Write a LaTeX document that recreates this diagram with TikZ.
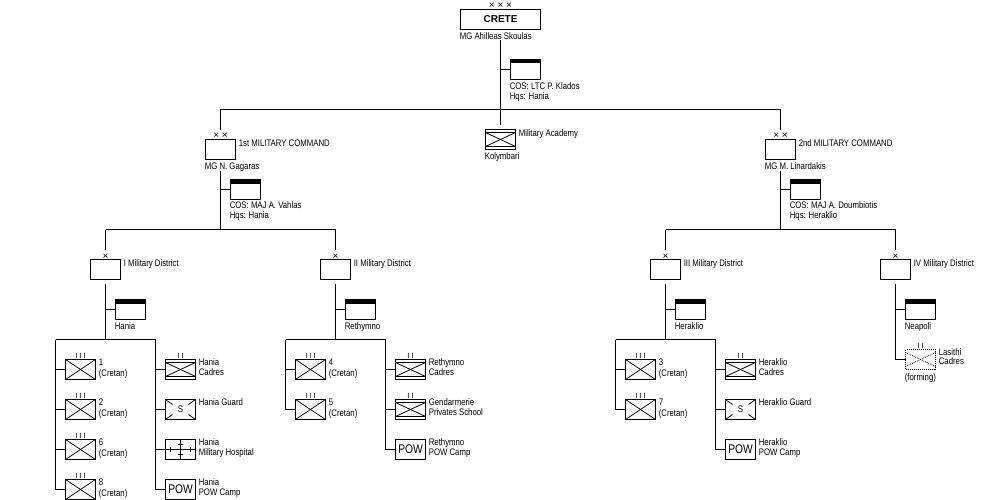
\documentclass[tikz,border=0pt]{standalone}
\usepackage{fontspec}
\setmainfont[FakeStretch=0.82]{Liberation Sans}
\newfontfamily\plainfont{Liberation Sans}
\usepackage{tikz}
\usetikzlibrary{calc}
\tikzset{link/.style={line width=1pt,black}}
\tikzset{txt/.style={anchor=base west,inner sep=0pt,outer sep=0pt,xshift=-.7pt,font=\fontsize{9.5}{10}\selectfont}}
\tikzset{ech/.style={anchor=base,inner sep=0pt,font=\plainfont\fontsize{7.5}{8}\selectfont}}
\tikzset{echx/.style={anchor=base,inner sep=0pt,font=\plainfont\fontsize{10}{10}\selectfont}}
\tikzset{unit/.style={rectangle,draw=black,line width=1pt,minimum width=30pt,minimum height=20pt,inner sep=0pt,outer sep=0pt}}
\tikzset{staff/.style={unit,path picture={\fill[black] (path picture bounding box.north west) rectangle ([yshift=-4pt]path picture bounding box.north east);}}}
\tikzset{inf/.style={unit,path picture={
  \draw[line width=.8pt] (path picture bounding box.north west) -- (path picture bounding box.south east);
  \draw[line width=.8pt] (path picture bounding box.south west) -- (path picture bounding box.north east);}}}
\tikzset{cadre/.style={unit,path picture={
  \draw[line width=1pt] ([yshift=-3pt]path picture bounding box.north west) -- ([yshift=-3pt]path picture bounding box.north east);
  \draw[line width=1pt] ([yshift=3pt]path picture bounding box.south west) -- ([yshift=3pt]path picture bounding box.south east);
  \draw[line width=.8pt] ([yshift=-3pt]path picture bounding box.north west) -- ([yshift=3pt]path picture bounding box.south east);
  \draw[line width=.8pt] ([yshift=3pt]path picture bounding box.south west) -- ([yshift=-3pt]path picture bounding box.north east);}}}
\tikzset{guard/.style={unit,font=\fontsize{9.5}{10}\selectfont,path picture={
  \draw[line width=.8pt] (path picture bounding box.north west) -- +(7pt,-5pt);
  \draw[line width=.8pt] (path picture bounding box.north east) -- +(-7pt,-5pt);
  \draw[line width=.8pt] (path picture bounding box.south west) -- +(7pt,5pt);
  \draw[line width=.8pt] (path picture bounding box.south east) -- +(-7pt,5pt);}}}
\tikzset{hospital/.style={unit,path picture={
  \draw[line width=1pt] (path picture bounding box.west) -- (path picture bounding box.east);
  \draw[line width=1pt] (path picture bounding box.north) -- (path picture bounding box.south);
  \foreach \s in {-10,10} \draw[line width=1pt] ([xshift=\s pt,yshift=-2.5pt]path picture bounding box.center) -- ([xshift=\s pt,yshift=2.5pt]path picture bounding box.center);
  \foreach \s in {-5,5} \draw[line width=1pt] ([xshift=-2.5pt,yshift=\s pt]path picture bounding box.center) -- ([xshift=2.5pt,yshift=\s pt]path picture bounding box.center);}}}
\tikzset{pow/.style={unit,font=\fontsize{12.5}{13}\selectfont}}
\tikzset{forming/.style={unit,densely dotted,path picture={
  \draw[line width=.8pt,densely dotted] ([yshift=-3pt]path picture bounding box.north west) -- ([yshift=3pt]path picture bounding box.south east);
  \draw[line width=.8pt,densely dotted] ([yshift=3pt]path picture bounding box.south west) -- ([yshift=-3pt]path picture bounding box.north east);}}}
\begin{document}
\begin{tikzpicture}[x=1pt,y=-1pt]
\path[use as bounding box,fill=white] (-.5,-.5) rectangle (999.5,499.5);

% top of the tree
\node[unit,minimum width=80pt,font=\plainfont\bfseries\fontsize{10}{10}\selectfont] (crete) at (500,19) {CRETE};
\node[echx] (creteech) at (500,8.5) {× × ×};
\node[txt] (cretemg) at (460,39) {MG  Ahilleas Skoulas};
\coordinate (cretetop) at (500,40);
\coordinate (cretebar) at (500,109);
\coordinate (cretebot) at (500,125);
\draw[link] (cretetop) -- (cretebot);
\node[staff] (cretestaff) at (525,69) {};
\draw[link] (cretestaff.west) -- (cretestaff.west -| cretetop);
\node[txt] (cretecos) at (510,89) {COS: LTC  P. Klados};
\node[txt] (cretehq) at (510,99) {Hqs:  Hania};
\node[cadre] (academy) at (500,139) {};
\node[txt] (academyname) at (519,136) {Military Academy};
\node[txt] (academyhq) at (485,159) {Kolymbari};

% the two commands
\foreach \c/\cx/\cname/\mg/\cos/\hq/\dl/\dr in {
  A/220/1st MILITARY COMMAND/MG  N. Gagaras/COS: MAJ  A. Vahlas/Hania/105/335,
  B/780/2nd MILITARY COMMAND/MG  M. Linardakis/COS: MAJ  A. Doumbiotis/Heraklio/665/895} {
  \node[unit] (cmd\c) at (\cx,149) {};
  \node[echx] (ech\c) at (\cx,138.5) {× ×};
  \node[txt] (name\c) at (\cx+19,146) {\cname};
  \node[txt] (mg\c) at (\cx-15,169) {\mg};
  \coordinate (up\c) at (\cx,129);
  \coordinate (stem\c) at (\cx,170);
  \coordinate (bar\c) at (\cx,229);
  \coordinate (top\c) at (\cx,109);
  \draw[link] (top\c) -- (up\c);
  \draw[link] (stem\c) -- (bar\c);
  \node[staff] (staff\c) at (\cx+25,189) {};
  \draw[link] (staff\c.west) -- (staff\c.west -| stem\c);
  \node[txt] (cos\c) at (\cx+10,208) {\cos};
  \node[txt] (hq\c) at (\cx+10,218) {Hqs:  \hq};
  \coordinate (left\c) at (\dl,229);
  \coordinate (right\c) at (\dr,229);
  \draw[link] (left\c) -- (right\c);
}
\draw[link] (topA) -- (topB);

% districts
\foreach \d/\dx/\dname/\hq/\dend in {
  I/105/I Military District/Hania/339,
  II/335/II Military District/Rethymno/339,
  III/665/III Military District/Heraklio/339,
  IV/895/IV Military District/Neapoli/359} {
  \node[unit] (dist\d) at (\dx,269) {};
  \node[echx] (distech\d) at (\dx,258.5) {×};
  \node[txt] (distname\d) at (\dx+19,266) {\dname};
  \coordinate (distup\d) at (\dx,229);
  \coordinate (distin\d) at (\dx,249);
  \coordinate (diststem\d) at (\dx,283);
  \coordinate (distend\d) at (\dx,\dend);
  \draw[link] (distup\d) -- (distin\d);
  \draw[link] (diststem\d) -- (distend\d);
  \node[staff] (diststaff\d) at (\dx+25,309) {};
  \draw[link] (diststaff\d.west) -- (diststaff\d.west -| diststem\d);
  \node[txt] (disthq\d) at (\dx+10,329) {\hq};
}

% bars under the districts
\foreach \d/\lx/\rx in {I/55/155,II/285/385,III/615/715} {
  \coordinate (barL\d) at (\lx,339);
  \coordinate (barR\d) at (\rx,339);
  \draw[link] (barL\d) -- (barR\d);
}

% regiments
\foreach \r/\d/\lx/\y/\num in {1/I/55/369/1,2/I/55/409/2,6/I/55/449/6,8/I/55/489/8,4/II/285/369/4,5/II/285/409/5,3/III/615/369/3,7/III/615/409/7} {
  \node[inf] (reg\r) at (\lx+25,\y) {};
  \node[ech] (regech\r) at (\lx+25,\y-11) {I I I};
  \node[txt] (regnum\r) at (\lx+44,\y-4) {\num};
  \node[txt] (regname\r) at (\lx+44,\y+7) {(Cretan)};
  \draw[link] (barL\d) |- (reg\r.west);
}

% independent units, right hand columns
\foreach \u/\d/\rx/\y/\kind/\sym/\ta/\tb in {
  a/I/155/369/cadre//Hania/Cadres,
  c/I/155/449/hospital//Hania/Military Hospital,
  e/I/155/489/pow/POW/Hania/POW Camp,
  f/II/385/369/cadre//Rethymno/Cadres,
  g/II/385/409/cadre//Gendarmerie/Privates School,
  h/II/385/449/pow/POW/Rethymno/POW Camp,
  i/III/715/369/cadre//Heraklio/Cadres,
  k/III/715/449/pow/POW/Heraklio/POW Camp} {
  \node[\kind] (bn\u) at (\rx+25,\y) {\sym};
  \node[txt] (bnta\u) at (\rx+44,\y-4) {\ta};
  \node[txt] (bntb\u) at (\rx+44,\y+6) {\tb};
  \draw[link] (barR\d) |- (bn\u.west);
}
\foreach \u/\d/\rx/\y/\ta in {b/I/155/409/Hania Guard,j/III/715/409/Heraklio Guard} {
  \node[guard] (bn\u) at (\rx+25,\y) {S};
  \node[txt] (bnta\u) at (\rx+44,\y-4) {\ta};
  \draw[link] (barR\d) |- (bn\u.west);
}
% two-bar echelon marks
\foreach \u/\ex/\ey in {a/180/358,f/410/358,g/410/398,i/740/358} {
  \node[ech] (bnech\u) at (\ex,\ey) {I I};
}

% the unit still forming
\node[forming] (lasithi) at (920,359) {};
\node[ech] (lasithiech) at (920,348) {I I};
\node[txt] (lasithia) at (939,355) {Lasithi};
\node[txt] (lasithib) at (939,364) {Cadres};
\node[txt] (lasithic) at (905,380) {(forming)};
\draw[link] (distendIV) -- (lasithi.west);
\end{tikzpicture}
\end{document}
